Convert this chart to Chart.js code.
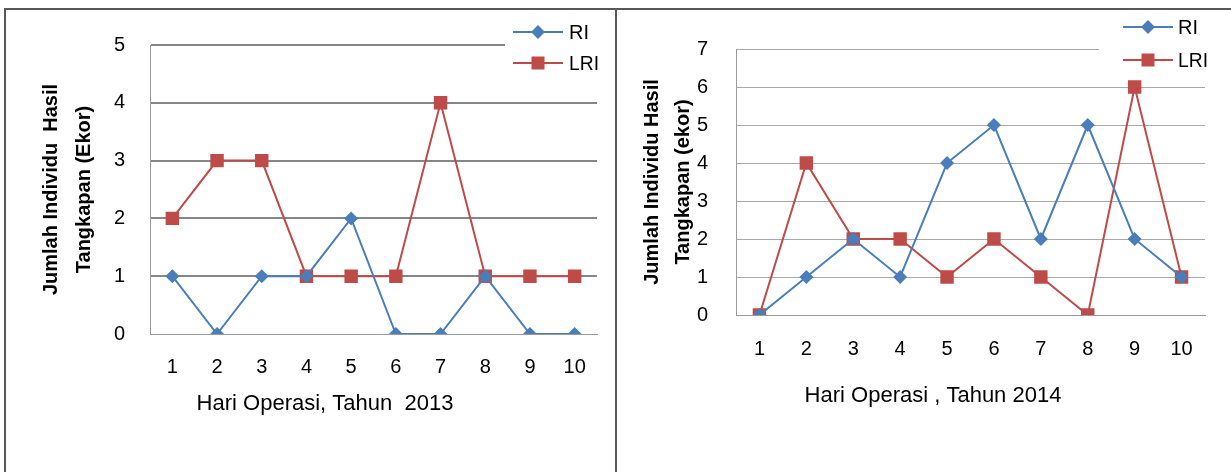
<!DOCTYPE html>
<html>
<head>
<meta charset="utf-8">
<script src="https://cdn.jsdelivr.net/npm/chart.js@4.4.0/dist/chart.umd.min.js"></script>
<style>
  html, body { margin: 0; padding: 0; background: #fff; }
  #page { position: relative; width: 1231px; height: 472px; overflow: hidden; }
  .frame { position: absolute; background: #585858; z-index: 2; }
  canvas { position: absolute; top: 0; }
</style>
</head>
<body>
<div id="page">
  <div class="frame" style="left:4px; top:8px; width:1227px; height:2px;"></div>
  <div class="frame" style="left:4px; top:8px; width:2px; height:464px;"></div>
  <div class="frame" style="left:615px; top:8px; width:2px; height:464px;"></div>
  <canvas id="chart2013" width="615" height="472" style="left:0"></canvas>
  <canvas id="chart2014" width="614" height="472" style="left:617px"></canvas>
</div>
<script>
// data
const hari = ['1', '2', '3', '4', '5', '6', '7', '8', '9', '10'];
const ri2013 = [1, 0, 1, 1, 2, 0, 0, 1, 0, 0];
const lri2013 = [2, 3, 3, 1, 1, 1, 4, 1, 1, 1];
const ri2014 = [0, 1, 2, 1, 4, 5, 2, 5, 2, 1];
const lri2014 = [0, 4, 2, 2, 1, 2, 1, 0, 6, 1];
const yMax2013 = 5;
const yMax2014 = 7;
const judulY2013 = ['Jumlah Individu  Hasil', 'Tangkapan (Ekor)'];
const judulY2014 = ['Jumlah Individu Hasil', 'Tangkapan (ekor)'];
const judulX2013 = 'Hari Operasi, Tahun  2013';
const judulX2014 = 'Hari Operasi , Tahun 2014';

const BIRU = '#4a7ebb';
const MERAH = '#be4b48';
const FONT = "'Liberation Sans', Arial, sans-serif";

// legend + x title drawn by hand, the legend box hides the top gridline like in the original
const sketchLegend = {
  id: 'sketchLegend',
  beforeDatasetsDraw(chart, args, o) {
    const ctx = chart.ctx;
    ctx.save();
    ctx.fillStyle = '#fff';
    ctx.fillRect(o.box[0], o.box[1], o.box[2], o.box[3]);
    ctx.restore();
  },
  afterDraw(chart, args, o) {
    const ctx = chart.ctx;
    ctx.save();
    chart.data.datasets.forEach((ds, i) => {
      const y = o.rows[i];
      ctx.strokeStyle = ds.borderColor;
      ctx.lineWidth = 2;
      ctx.beginPath();
      ctx.moveTo(o.lineX[0], y);
      ctx.lineTo(o.lineX[1], y);
      ctx.stroke();
      const mx = (o.lineX[0] + o.lineX[1]) / 2;
      ctx.fillStyle = ds.borderColor;
      if (ds.pointStyle === 'rectRot') {
        ctx.beginPath();
        ctx.moveTo(mx, y - 7);
        ctx.lineTo(mx + 7, y);
        ctx.lineTo(mx, y + 7);
        ctx.lineTo(mx - 7, y);
        ctx.closePath();
        ctx.fill();
      } else {
        ctx.fillRect(mx - 6.5, y - 6.5, 13, 13);
      }
      ctx.fillStyle = '#000';
      ctx.font = '20px ' + FONT;
      ctx.textBaseline = 'middle';
      ctx.textAlign = 'left';
      ctx.fillText(ds.label, o.textX, y + 1, o.textW);
    });
    // judul sumbu x
    ctx.fillStyle = '#000';
    ctx.font = '22px ' + FONT;
    ctx.textAlign = 'center';
    ctx.textBaseline = 'middle';
    ctx.fillText(o.xTitle, o.xTitlePos[0], o.xTitlePos[1], o.xTitleWidth);
    ctx.restore();
  }
};

function buatGrafik(id, ri, lri, yMax, s) {
  return new Chart(document.getElementById(id), {
    type: 'line',
    data: {
      labels: hari,
      datasets: [
        {
          label: 'RI',
          data: ri,
          borderColor: BIRU,
          backgroundColor: BIRU,
          borderWidth: 2,
          tension: 0,
          pointStyle: 'rectRot',
          pointRadius: 7,
          pointBorderWidth: 0,
          pointBackgroundColor: BIRU,
        },
        {
          label: 'LRI',
          data: lri,
          borderColor: MERAH,
          backgroundColor: MERAH,
          borderWidth: 2,
          tension: 0,
          pointStyle: 'rect',
          pointRadius: 9.5,
          pointBorderWidth: 0,
          pointBackgroundColor: MERAH,
        },
      ],
    },
    options: {
      responsive: false,
      animation: false,
      layout: { padding: { top: s.top, right: s.right, left: 0, bottom: 0 } },
      scales: {
        x: {
          offset: true,
          grid: { display: false, drawTicks: false },
          border: { display: true, color: '#9a9a9a', width: 1 },
          ticks: {
            color: '#000',
            font: { family: FONT, size: 20 },
            padding: s.xPad,
            maxRotation: 0,
            autoSkip: false,
          },
          afterFit: (sc) => { sc.height = s.xHeight; },
        },
        y: {
          min: 0,
          max: yMax,
          ticks: {
            stepSize: 1,
            color: '#000',
            font: { family: FONT, size: 20 },
            padding: s.yPad,
          },
          grid: {
            drawTicks: false,
            color: (c) => (c.tick && c.tick.value === 0 ? '#9a9a9a' : s.gridColor),
            lineWidth: (c) => (c.tick && c.tick.value === 0 ? 1 : s.gridWidth),
          },
          border: { display: true, color: '#9a9a9a', width: 1 },
          title: {
            display: true,
            text: s.yTitle,
            color: '#000',
            font: { family: FONT, weight: 'bold', size: 20, lineHeight: s.yLine },
            padding: { top: s.yTitlePad, bottom: 0 },
          },
          afterFit: (sc) => { sc.width = s.yWidth; },
        },
      },
      plugins: {
        legend: { display: false },
        tooltip: { enabled: false },
        sketchLegend: s.legend,
      },
    },
    plugins: [sketchLegend],
  });
}

buatGrafik('chart2013', ri2013, lri2013, yMax2013, {
  top: 45, right: 18, xHeight: 138, yWidth: 150,
  xPad: 21, yPad: 25,
  gridColor: '#868686', gridWidth: 2,
  yTitle: judulY2013, yLine: '33px', yTitlePad: 35,
  legend: {
    box: [505, 11, 110, 68],
    rows: [32, 63],
    lineX: [513, 563],
    textX: 569,
    textW: 30,
    xTitle: judulX2013,
    xTitlePos: [325, 404],
    xTitleWidth: 268,
  },
});

buatGrafik('chart2014', ri2014, lri2014, yMax2014, {
  top: 49, right: 26, xHeight: 157, yWidth: 119,
  xPad: 22, yPad: 28,
  gridColor: '#a8a8a8', gridWidth: 1,
  yTitle: judulY2014, yLine: '31px', yTitlePad: 20,
  legend: {
    box: [482, 11, 132, 62],
    rows: [27, 60],
    lineX: [506, 556],
    textX: 561,
    textW: 30,
    xTitle: judulX2014,
    xTitlePos: [316, 396],
    xTitleWidth: 268,
  },
});
</script>
</body>
</html>
